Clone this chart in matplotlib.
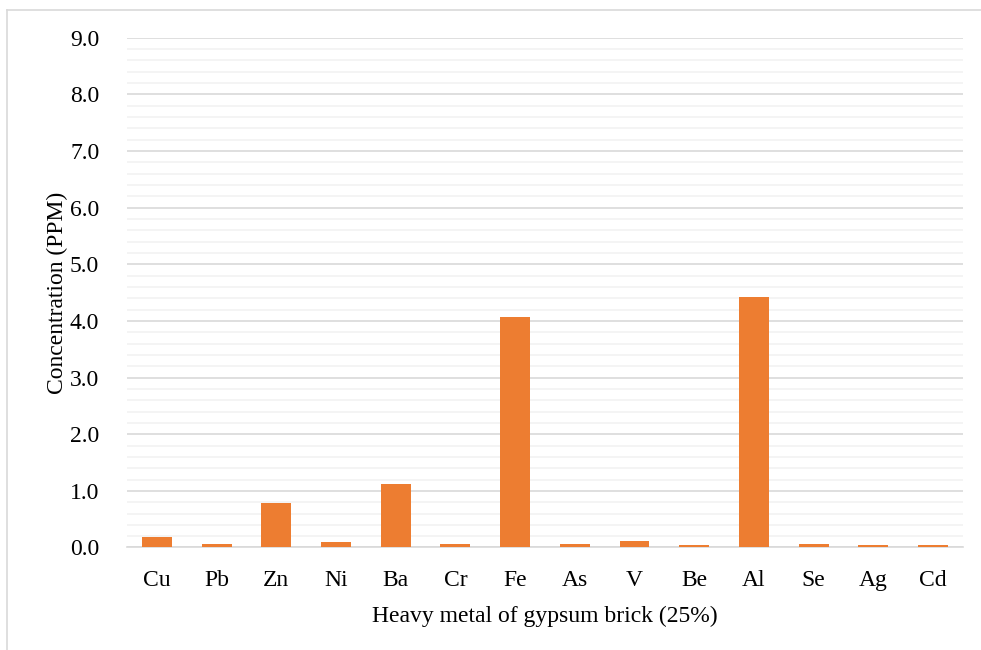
import matplotlib.pyplot as plt
from matplotlib.ticker import MultipleLocator

plt.rcParams['font.family'] = ['Liberation Serif', 'DejaVu Serif']

# heavy metal concentrations (ppm) for the 25% gypsum brick
metals = ['Cu', 'Pb', 'Zn', 'Ni', 'Ba', 'Cr', 'Fe', 'As', 'V', 'Be', 'Al', 'Se', 'Ag', 'Cd']
conc = [0.19, 0.07, 0.78, 0.09, 1.12, 0.06, 4.07, 0.06, 0.12, 0.05, 4.42, 0.06, 0.05, 0.05]

fig = plt.figure(figsize=(9.81, 6.5), dpi=100)
ax = fig.add_axes([0.1295, 0.1577, 0.852, 0.7843])

# chart area border: left and top edges drawn as a figure-level frame axes
frame = fig.add_axes([7 / 981, -0.2, 1.5, 1.2 - 10 / 650], zorder=-1)
frame.set_xticks([])
frame.set_yticks([])
frame.patch.set_visible(False)
for s in ['right', 'bottom']:
    frame.spines[s].set_visible(False)
for s in ['left', 'top']:
    frame.spines[s].set_color('#D9D9D9')
    frame.spines[s].set_linewidth(1.2)

x = range(len(metals))
ax.bar(x, conc, width=0.5, color='#ED7D31', zorder=3)

ax.set_xlim(-0.5, len(metals) - 0.5)
ax.set_ylim(0, 9)
ax.yaxis.set_major_locator(MultipleLocator(1.0))
ax.yaxis.set_minor_locator(MultipleLocator(0.2))
ax.yaxis.set_major_formatter(plt.FuncFormatter(lambda v, p: f'{v:.1f}'))
ax.grid(which='major', axis='y', color='#D9D9D9', linewidth=1.2, zorder=0)
ax.grid(which='minor', axis='y', color='#F2F2F2', linewidth=1.2, zorder=0)
ax.set_xticks(list(x))
ax.set_xticklabels(metals)

for s in ['top', 'right', 'left']:
    ax.spines[s].set_visible(False)
ax.spines['bottom'].set_color('#D9D9D9')
ax.spines['bottom'].set_linewidth(1.2)
ax.tick_params(axis='both', which='both', length=0, labelsize=17, colors='black')
ax.tick_params(axis='y', pad=20)
ax.tick_params(axis='x', pad=16)

ax.set_ylabel('Concentration (PPM)', fontsize=17, labelpad=1)
ax.set_xlabel('Heavy metal of gypsum brick (25%)', fontsize=17, labelpad=11)

fig.savefig('out.png', dpi=100, facecolor='white')
